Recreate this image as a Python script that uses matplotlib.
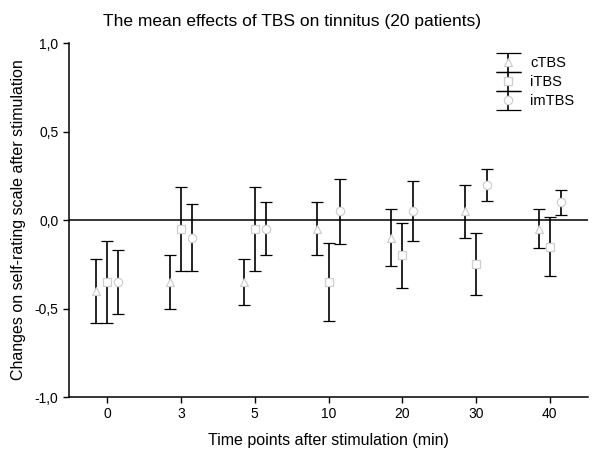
import numpy as np
import matplotlib.pyplot as plt
from matplotlib.ticker import FuncFormatter
from matplotlib.legend_handler import HandlerErrorbar

plt.rcParams['font.family'] = ['Liberation Sans', 'DejaVu Sans']

TIME_POINTS = ['0', '3', '5', '10', '20', '30', '40']
SERIES = ['cTBS', 'iTBS', 'imTBS']
MARKERS = ['^', 's', 'o']

# mean change and half-width of the error bar
ctbs_mean = [-0.40, -0.35, -0.35, -0.05, -0.10, 0.05, -0.05]
ctbs_err = [0.18, 0.15, 0.13, 0.15, 0.16, 0.15, 0.11]
itbs_mean = [-0.35, -0.05, -0.05, -0.35, -0.20, -0.25, -0.15]
itbs_err = [0.23, 0.235, 0.235, 0.22, 0.185, 0.175, 0.165]
imtbs_mean = [-0.35, -0.10, -0.05, 0.05, 0.05, 0.20, 0.10]
imtbs_err = [0.18, 0.19, 0.15, 0.185, 0.17, 0.09, 0.07]

means = [ctbs_mean, itbs_mean, imtbs_mean]
errs = [ctbs_err, itbs_err, imtbs_err]
offsets = [-0.15, 0.0, 0.15]

fig = plt.figure(figsize=(6, 4.59), dpi=100)
ax = fig.add_axes([0.115, 0.135, 0.865, 0.771])

x = np.arange(len(TIME_POINTS))
ax.axhline(0, color='black', lw=1.1, zorder=1)

style = dict(ms=6, mfc='white', mec='#cfcfcf', mew=0.9, ecolor='black',
             elinewidth=1.2, capthick=1.2)
handles = []
for name, m, e, mk, off in zip(SERIES, means, errs, MARKERS, offsets):
    ax.errorbar(x + off, m, yerr=e, fmt=mk, capsize=4, zorder=3, **style)
    # legend proxy with wider caps, like the original
    h = ax.errorbar([np.nan], [np.nan], yerr=[np.nan], fmt=mk, capsize=9,
                    label=name, **style)
    handles.append(h)

ax.set_xlim(-0.52, len(TIME_POINTS) - 0.48)
ax.set_ylim(-1.0, 1.0)
ax.set_xticks(x)
ax.set_xticklabels(TIME_POINTS)
ax.set_yticks([-1.0, -0.5, 0.0, 0.5, 1.0])
ax.yaxis.set_major_formatter(FuncFormatter(lambda v, p: f'{v:.1f}'.replace('.', ',')))
ax.tick_params(direction='out', length=4, width=1, labelsize=10, colors='black')
ax.spines['top'].set_visible(False)
ax.spines['right'].set_visible(False)
ax.spines['left'].set_linewidth(1.1)
ax.spines['bottom'].set_linewidth(1.1)

ax.set_xlabel('Time points after stimulation (min)', fontsize=11.5, labelpad=8)
ax.set_ylabel('Changes on self-rating scale after stimulation', fontsize=11.5, labelpad=6)
ax.set_title('The mean effects of TBS on tinnitus (20 patients)', fontsize=12.5, pad=12, x=0.43)

ax.legend(handles=handles, labels=SERIES, loc='upper left', bbox_to_anchor=(0.796, 1.0),
          frameon=False, fontsize=10.5, handlelength=1.8, labelspacing=0.35,
          handletextpad=0.6, handler_map={type(handles[0]): HandlerErrorbar(yerr_size=0.65)})

fig.savefig('out.png', dpi=100)
